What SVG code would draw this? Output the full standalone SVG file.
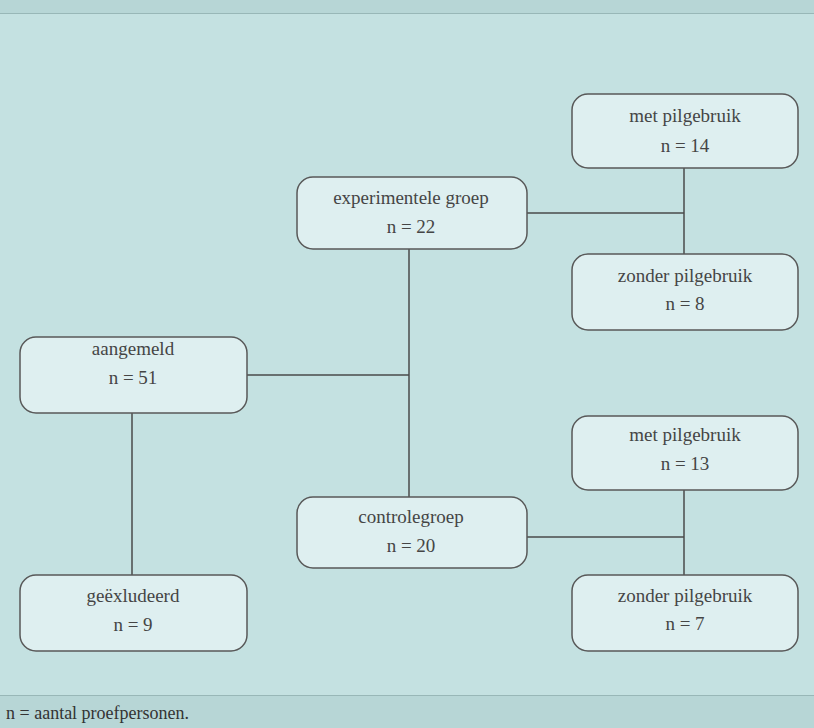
<svg xmlns="http://www.w3.org/2000/svg" width="814" height="728" viewBox="0 0 814 728">
<style>
.box{fill:#deeff0;stroke:#585858;stroke-width:1.5}
.t{font-family:"Liberation Serif","DejaVu Serif",serif;font-size:19px;fill:#454545;text-anchor:middle}
.c{stroke:#4a4a4a;stroke-width:1.5;fill:none}
</style>
<rect x="0" y="0" width="814" height="728" fill="#c4e1e1"/>
<rect x="0" y="0" width="814" height="13" fill="#b7d6d6"/>
<line x1="0" y1="13.5" x2="814" y2="13.5" stroke="#98b7b7" stroke-width="1"/>
<rect x="0" y="695" width="814" height="33" fill="#b7d6d6"/>
<line x1="0" y1="695.5" x2="814" y2="695.5" stroke="#98b7b7" stroke-width="1"/>
<g id="connectors">
<path class="c" d="M684 168V254"/>
<path class="c" d="M527 213H684"/>
<path class="c" d="M409 249V497"/>
<path class="c" d="M247 375H409"/>
<path class="c" d="M132 413V575"/>
<path class="c" d="M684 490V575"/>
<path class="c" d="M527 537H684"/>
</g>
<g id="met1"><rect class="box" x="572" y="94" width="226" height="74" rx="16"/><text class="t" x="685" y="122">met pilgebruik</text><text class="t" x="685" y="152">n = 14</text></g>
<g id="zonder1"><rect class="box" x="572" y="254" width="226" height="76" rx="16"/><text class="t" x="685" y="282">zonder pilgebruik</text><text class="t" x="685" y="310">n = 8</text></g>
<g id="exp"><rect class="box" x="297" y="177" width="230" height="72" rx="16"/><text class="t" x="411" y="204">experimentele groep</text><text class="t" x="411" y="233">n = 22</text></g>
<g id="aangemeld"><rect class="box" x="20" y="337" width="227" height="76" rx="16"/><text class="t" x="133" y="355">aangemeld</text><text class="t" x="133" y="384">n = 51</text></g>
<g id="excl"><rect class="box" x="20" y="575" width="227" height="76" rx="16"/><text class="t" x="133" y="602">geëxludeerd</text><text class="t" x="133" y="631">n = 9</text></g>
<g id="ctrl"><rect class="box" x="297" y="497" width="230" height="71" rx="16"/><text class="t" x="411" y="523">controlegroep</text><text class="t" x="411" y="552">n = 20</text></g>
<g id="met2"><rect class="box" x="572" y="416" width="226" height="74" rx="16"/><text class="t" x="685" y="441">met pilgebruik</text><text class="t" x="685" y="470">n = 13</text></g>
<g id="zonder2"><rect class="box" x="572" y="575" width="226" height="76" rx="16"/><text class="t" x="685" y="602">zonder pilgebruik</text><text class="t" x="685" y="630">n = 7</text></g>
<text x="6" y="719" font-family="Liberation Serif,DejaVu Serif,serif" font-size="18" fill="#333">n = aantal proefpersonen.</text>
</svg>
